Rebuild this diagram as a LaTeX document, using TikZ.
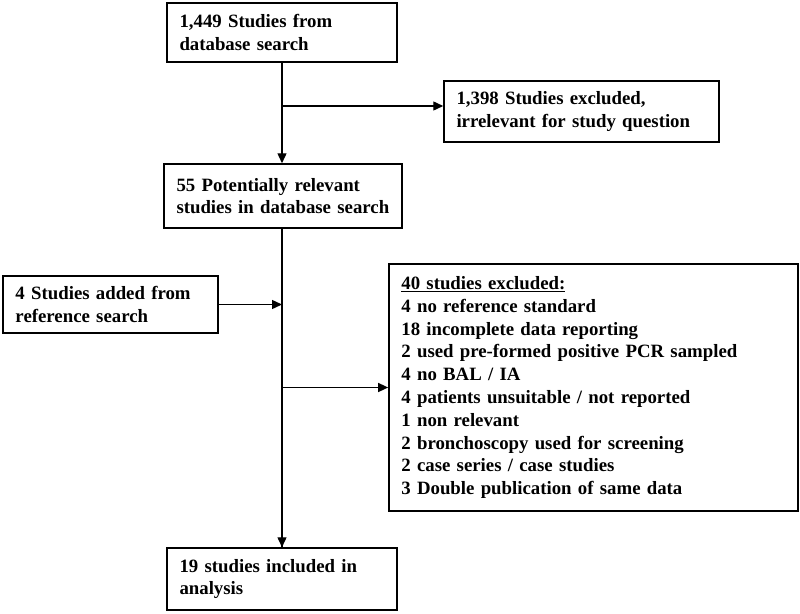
\documentclass[tikz,border=0pt]{standalone}
\usepackage{fontspec}
\setmainfont{Liberation Serif}
\usetikzlibrary{arrows.meta}
\begin{document}
\begin{tikzpicture}[x=1pt,y=-1pt,
  box/.style={draw, line width=1.5pt, align=left, inner xsep=12.5pt, inner ysep=0pt,
    font=\fontsize{18.8}{22.8}\selectfont\bfseries, anchor=center},
  conn/.style={line width=1.4pt},
  arr/.style={line width=1.4pt, -{Triangle[length=10pt,width=9pt]}}]
\useasboundingbox (0,0) rectangle (800,613);
\node[box, text width=205pt, minimum height=59pt] (b1) at (282,32.5) {1,449 Studies from\\database search};
\node[box, text width=250pt, minimum height=61pt] (b2) at (581.5,111.5) {1,398 Studies excluded,\\irrelevant for study question};
\node[box, text width=213pt, minimum height=64pt] (b3) at (283,196) {55 Potentially relevant\\studies in database search};
\node[box, text width=190pt, minimum height=57pt] (b4) at (110.5,304.5) {4 Studies added from\\reference search};
\node[box, text width=384pt, minimum height=247pt] (b5) at (593.4,387.5) {\underline{40 studies excluded:}\\
4 no reference standard\\
18 incomplete data reporting\\
2 used pre-formed positive PCR sampled\\
4 no BAL / IA\\
4 patients unsuitable / not reported\\
1 non relevant\\
2 bronchoscopy used for screening\\
2 case series / case studies\\
3 Double publication of same data};
\node[box, text width=205pt, minimum height=62pt] (b6) at (282,579) {19 studies included in\\analysis};
\coordinate (j1) at (282,106);
\coordinate (j2) at (282,304.5);
\coordinate (j3) at (282,387.5);
\draw[arr] (b1.south) -- (b1.south |- b3.north);
\draw[arr] (j1) -- (b2.west |- j1);
\draw[conn] (b1.south |- b3.south) -- (b1.south |- b6.north);
\draw[arr] (b1.south |- b6.north) ++(0,-1) -- (b1.south |- b6.north);
\draw[arr] (b4.east) -- (j2);
\draw[arr] (j3) -- (b5.west);
\end{tikzpicture}
\end{document}
